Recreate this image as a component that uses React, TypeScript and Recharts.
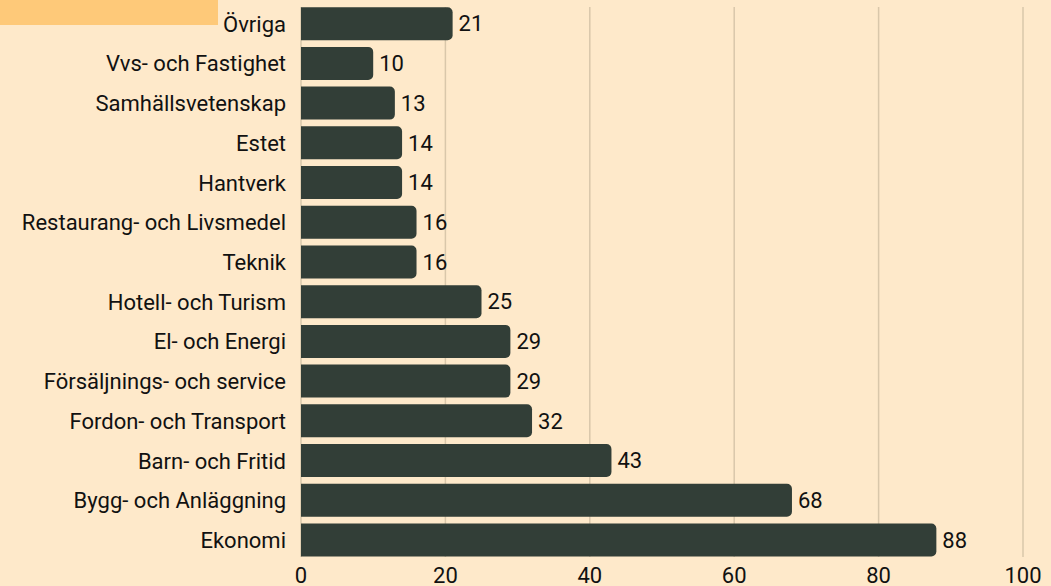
import React from "react";
import { BarChart, Bar, XAxis, YAxis, CartesianGrid, LabelList } from "recharts";

const categories = [
  "Övriga",
  "Vvs- och Fastighet",
  "Samhällsvetenskap",
  "Estet",
  "Hantverk",
  "Restaurang- och Livsmedel",
  "Teknik",
  "Hotell- och Turism",
  "El- och Energi",
  "Försäljnings- och service",
  "Fordon- och Transport",
  "Barn- och Fritid",
  "Bygg- och Anläggning",
  "Ekonomi",
];
const values = [21, 10, 13, 14, 14, 16, 16, 25, 29, 29, 32, 43, 68, 88];
const xTicks = [0, 20, 40, 60, 80, 100];

const data = categories.map((name, i) => ({ name, value: values[i] }));

const FONT = "Roboto, 'Noto Sans', sans-serif";
const TEXT = "#111111";
const FS = 22;

export default function App() {
  return (
    <div
      style={{
        position: "fixed",
        left: 0,
        top: 0,
        width: 1051,
        height: 586,
        background: "#fee9ca",
        fontFamily: FONT,
        overflow: "hidden",
      }}
    >
      <div
        style={{
          position: "absolute",
          left: 0,
          top: 0,
          width: 218,
          height: 25,
          background: "#fec979",
        }}
      />
      <div style={{ position: "absolute", left: 0, top: 0 }}>
        <BarChart
          width={1051}
          height={586}
          data={data}
          layout="vertical"
          margin={{ top: 7, right: 28, bottom: 0, left: 0 }}
          barCategoryGap="8%"
        >
          <CartesianGrid horizontal={false} vertical={true} stroke="#d9c7aa" strokeWidth={1.5} />
          <XAxis
            type="number"
            domain={[0, 100]}
            ticks={xTicks}
            axisLine={false}
            tickLine={false}
            tickSize={0}
            tickMargin={10}
            height={29}
            interval={0}
            tick={{ fill: TEXT, fontSize: FS, fontFamily: FONT, fontWeight: 400 }}
          />
          <YAxis
            type="category"
            dataKey="name"
            width={301}
            axisLine={false}
            tickLine={false}
            tickSize={0}
            tickMargin={15}
            interval={0}
            padding={{ top: -3, bottom: -3 }}
            tick={{ fill: TEXT, fontSize: FS, fontFamily: FONT, fontWeight: 400 }}
          />
          <Bar dataKey="value" fill="#323e37" radius={[0, 5, 5, 0]} isAnimationActive={false}>
            <LabelList
              dataKey="value"
              position="right"
              offset={6}
              style={{ fill: TEXT, fontSize: FS, fontFamily: FONT, fontWeight: 400 }}
            />
          </Bar>
        </BarChart>
      </div>
    </div>
  );
}
